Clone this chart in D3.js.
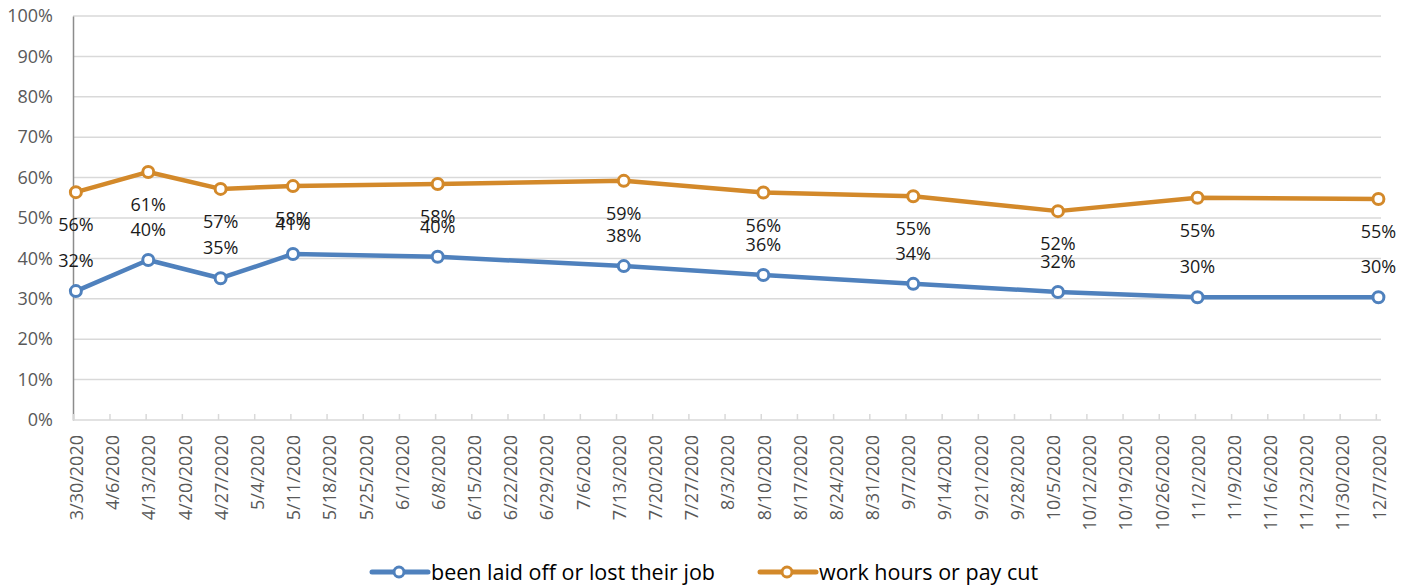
<!DOCTYPE html>
<html>
<head>
<meta charset="utf-8">
<script src="https://cdn.jsdelivr.net/npm/d3@7"></script>
<style>
  body { margin: 0; background: #fff; }
  text { font-family: "Open Sans", sans-serif; }
</style>
</head>
<body>
<svg id="chart"></svg>
<script>
// axis runs weekly from the first to the last survey
var axisStart = "3/30/2020";
var axisEnd = "12/8/2020";

// survey dates that have values
var surveyDates = ["3/30/2020","4/13/2020","4/27/2020","5/11/2020","6/8/2020","7/14/2020",
  "8/10/2020","9/8/2020","10/6/2020","11/2/2020","12/7/2020"];

var laidOff = [0.319, 0.396, 0.351, 0.411, 0.404, 0.381, 0.359, 0.337, 0.317, 0.304, 0.304];
var payCut  = [0.564, 0.614, 0.572, 0.579, 0.584, 0.592, 0.563, 0.554, 0.517, 0.550, 0.547];

var yTicks = [0, 0.1, 0.2, 0.3, 0.4, 0.5, 0.6, 0.7, 0.8, 0.9, 1];

var seriesNames = ["been laid off or lost their job", "work hours or pay cut"];
var colors = ["#4F81BD", "#D3892A"];

var width = 1411, height = 585;
var margin = {top: 16, left: 73, right: 30, bottom: 165};

var parse = d3.utcParse("%m/%d/%Y");
var fmt = d3.utcFormat("%-m/%-d/%Y");
var pct = d3.format(".0%");

var svg = d3.select("#chart")
    .attr("width", width)
    .attr("height", height);

var x = d3.scaleUtc()
    .domain([parse(axisStart), parse(axisEnd)])
    .range([margin.left + 0.3, width - margin.right]);

var y = d3.scaleLinear()
    .domain([0, 1])
    .range([height - margin.bottom, margin.top]);

// points sit in the middle of their day
function px(dateStr) {
    return x(d3.utcHour.offset(parse(dateStr), 12));
}

var weekTicks = d3.utcDay.range(parse(axisStart), parse(axisEnd), 7);

// gridlines
svg.append("g")
    .selectAll("line")
    .data(yTicks.slice(1))
    .enter().append("line")
    .attr("x1", margin.left)
    .attr("x2", width - margin.right)
    .attr("y1", function(d) { return y(d); })
    .attr("y2", function(d) { return y(d); })
    .attr("stroke", "#d9d9d9")
    .attr("stroke-width", 1.5);

// y axis labels
var yAxis = svg.append("g")
    .attr("transform", `translate(${margin.left},0)`)
    .call(d3.axisLeft(y).tickValues(yTicks).tickFormat(pct).tickSize(0).tickPadding(20));
yAxis.select(".domain").attr("stroke", "#8c8c8c").attr("stroke-width", 1.5);
yAxis.selectAll("text")
    .attr("fill", "#595959")
    .style("font-size", "18px");

// x axis
var xAxis = svg.append("g")
    .attr("transform", `translate(0,${y(0)})`)
    .call(d3.axisBottom(x).tickValues(weekTicks).tickFormat(fmt).tickSize(-6).tickSizeOuter(0).tickPadding(0));
xAxis.select(".domain")
    .attr("d", `M${margin.left},0H${width - margin.right}`)
    .attr("stroke", "#d9d9d9")
    .attr("stroke-width", 1.5);
xAxis.selectAll(".tick line").attr("stroke", "#d9d9d9").attr("stroke-width", 1.5);
xAxis.selectAll("text")
    .attr("fill", "#595959")
    .style("font-size", "18px")
    .attr("text-anchor", "end")
    .attr("dy", "0.35em")
    .attr("transform", "translate(3,15) rotate(-90)");

// series
var series = [laidOff, payCut];
var line = d3.line()
    .x(function(d, i) { return px(surveyDates[i]); })
    .y(function(d) { return y(d); });

series.forEach(function(values, s) {
    svg.append("path")
        .datum(values)
        .attr("fill", "none")
        .attr("stroke", colors[s])
        .attr("stroke-width", 4.5)
        .attr("stroke-linejoin", "round")
        .attr("d", line);
});

series.forEach(function(values, s) {
    svg.append("g")
        .selectAll("circle")
        .data(values)
        .enter().append("circle")
        .attr("cx", function(d, i) { return px(surveyDates[i]); })
        .attr("cy", function(d) { return y(d); })
        .attr("r", 5.5)
        .attr("fill", "#fff")
        .attr("stroke", colors[s])
        .attr("stroke-width", 3);
});

// data labels: blue above its point, orange below its point
var labelShift = [-30, 33];
series.forEach(function(values, s) {
    svg.append("g")
        .selectAll("text")
        .data(values)
        .enter().append("text")
        .attr("x", function(d, i) { return px(surveyDates[i]); })
        .attr("y", function(d) { return y(d) + labelShift[s]; })
        .attr("dy", "0.35em")
        .attr("text-anchor", "middle")
        .attr("fill", "#1a1a1a")
        .style("font-size", "18px")
        .text(function(d) { return pct(d); });
});

// legend
var legendX = [372, 760];
var legend = svg.append("g");
seriesNames.forEach(function(name, s) {
    var g = legend.append("g").attr("transform", `translate(${legendX[s]},572)`);
    g.append("line")
        .attr("x1", 0).attr("x2", 56)
        .attr("stroke", colors[s])
        .attr("stroke-width", 5)
        .attr("stroke-linecap", "round");
    g.append("circle")
        .attr("cx", 27).attr("r", 5)
        .attr("fill", "#fff")
        .attr("stroke", colors[s])
        .attr("stroke-width", 3);
    g.append("text")
        .attr("x", 59)
        .attr("dy", "0.35em")
        .attr("fill", "#000")
        .style("font-size", "21.5px")
        .text(name);
});
</script>
</body>
</html>
